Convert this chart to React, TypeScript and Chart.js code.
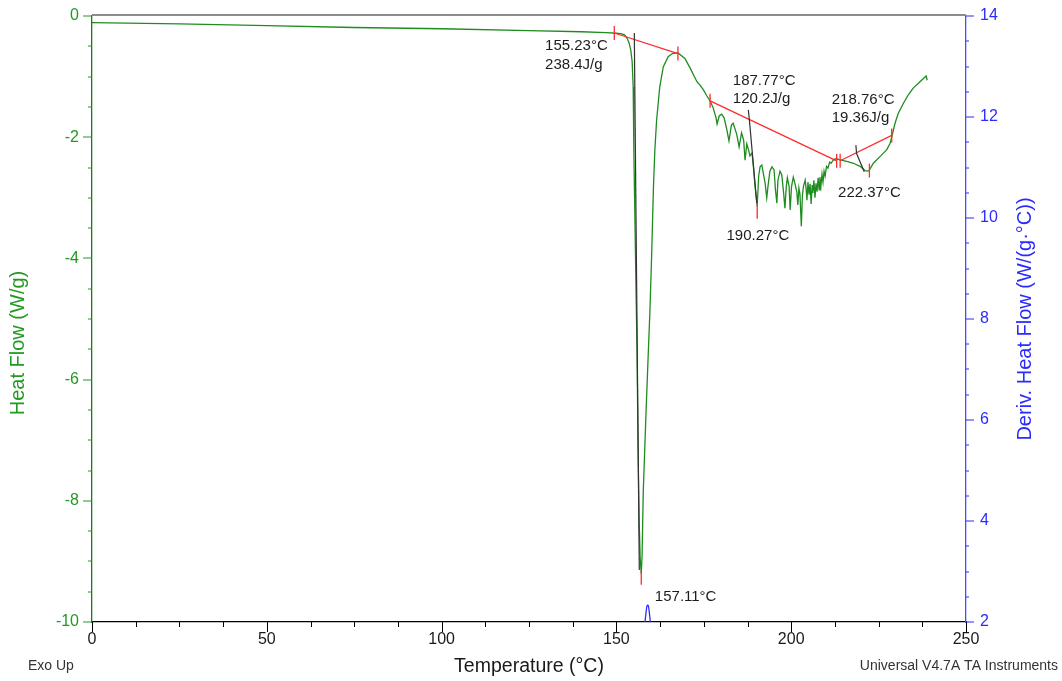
import { useEffect, useRef } from 'react';
import { Chart, registerables } from 'chart.js';

Chart.register(...registerables);

const FONT = '"Liberation Sans", Arial, Helvetica, sans-serif';

// Heat flow trace: temperature (°C) and heat flow (W/g)
const flowTemps = [
  0, 25, 50, 75, 100, 125, 140, 147, 150, 151.5,
  152.3, 153.0, 153.6, 154.1, 154.5, 154.8, 155.0, 155.3, 155.6, 155.9,
  156.2, 156.5, 156.8, 157.11, 157.35, 157.7, 158.5, 159.1, 159.6, 160.1,
  160.6, 161.0, 161.5, 162.4, 163.4, 164.8, 166.0, 167.6, 169.6, 171.1,
  173.0, 173.9, 174.9, 175.9, 176.8,
  177.7, 178.5, 178.8, 179.4, 180.1, 180.8, 181.5, 182.2, 182.9, 183.4,
  184.4, 185.1, 185.8, 186.4, 186.8, 187.3, 187.8, 188.2, 188.8, 189.2,
  189.6, 190.27,
  190.7, 191.1, 191.6, 192.1, 192.5, 193.0, 193.4, 193.9, 194.5, 195.1,
  195.5, 195.9, 196.2, 196.8, 197.3, 197.8, 198.2, 198.6, 198.9, 199.4,
  199.7, 200.1, 200.6, 201.1, 201.6, 201.9, 202.2, 202.5, 202.9, 203.2,
  203.5, 204.0, 204.3, 204.5, 204.8, 205.1, 205.4, 205.7, 206.0, 206.2,
  206.5, 206.8, 207.1, 207.4, 207.7, 208.0, 208.2, 208.5, 208.8, 209.1,
  209.4, 209.7, 210.1, 210.5, 211.0, 211.4, 212.0, 212.5, 213.1, 213.7,
  215.9, 217.8, 219.7, 221.1, 222.0, 222.4, 223.5, 225.4, 227.3, 228.3,
  228.75, 229.7, 230.6, 232.1, 233.5, 234.9, 236.4, 237.8, 238.6, 238.9,
];
const flowValues = [
  -0.11, -0.13, -0.16, -0.19, -0.21, -0.24, -0.26, -0.275, -0.285, -0.295,
  -0.31, -0.36, -0.44, -0.56, -0.75, -1.17, -2.26, -3.37, -4.47, -5.51,
  -7.16, -8.32, -8.95, -9.2, -8.9, -7.82, -6.5, -5.59, -4.85, -3.91,
  -2.82, -2.21, -1.72, -1.17, -0.84, -0.67, -0.62, -0.61, -0.7, -0.86,
  -1.08, -1.14, -1.22, -1.32, -1.4,
  -1.52, -1.68, -1.78, -1.65, -1.62, -1.68, -1.85, -2.06, -1.8, -1.77,
  -1.95, -2.16, -1.93, -2.05, -2.38, -2.11, -2.21, -2.31, -2.26, -2.49,
  -2.77, -3.14,
  -2.64, -2.49, -2.46, -2.62, -2.74, -3.0, -2.79, -2.56, -2.49, -2.54,
  -2.87, -3.09, -2.71, -2.56, -2.62, -2.9, -3.17, -2.81, -2.67, -2.81,
  -3.2, -2.81, -2.66, -2.77, -2.9, -3.12, -2.84, -2.94, -3.47, -2.97,
  -2.81, -2.71, -2.87, -3.04, -2.74, -2.95, -2.77, -3.1, -2.79, -2.92,
  -2.71, -3.0, -2.76, -2.9, -2.67, -2.87, -2.66, -2.81, -2.61, -2.74,
  -2.56, -2.64, -2.48, -2.51, -2.41, -2.43, -2.38, -2.36, -2.36, -2.37,
  -2.4, -2.43, -2.48, -2.55, -2.56, -2.54, -2.43, -2.32, -2.21, -2.1,
  -2.0, -1.77, -1.61, -1.44, -1.3, -1.19, -1.11, -1.03, -0.99, -1.06,
];

// Derivative heat flow around the melting peak, W/(g·°C)
const derivTemps = [157.6, 158.2, 158.5, 158.8, 159.1, 159.4, 159.7, 160.3];
const derivValues = [1.3, 2.0, 2.2, 2.33, 2.33, 2.2, 2.0, 1.3];

// Integration baselines
const baseOneTemps = [149.4, 167.6];
const baseOneFlows = [-0.28, -0.62];
const baseTwoTemps = [176.8, 213.0];
const baseTwoFlows = [-1.4, -2.39];
const baseThreeTemps = [214.0, 228.75];
const baseThreeFlows = [-2.39, -1.97];

// Onset tangents
const tanOneTemps = [155.12, 156.55];
const tanOneFlows = [-0.28, -9.14];
const tanTwoTemps = [187.73, 188.0, 190.15];
const tanTwoFlows = [-1.55, -1.69, -3.09];
const tanThreeTemps = [218.5, 218.7, 220.9];
const tanThreeFlows = [-2.13, -2.27, -2.57];

// Integration limits and peak markers
const markTemps = [149.4, 167.6, 176.8, 213.0, 214.0, 228.75, 222.37, 190.27, 157.11];
const markFlows = [-0.28, -0.62, -1.4, -2.39, -2.39, -1.97, -2.55, -3.23, -9.27];

// Analysis results
const noteTexts = ['155.23°C', '238.4J/g', '187.77°C', '120.2J/g', '218.76°C', '19.36J/g', '190.27°C', '222.37°C', '157.11°C'];
const noteTemps = [129.6, 129.6, 183.3, 183.3, 211.6, 211.6, 181.5, 213.4, 161.0];
const noteFlows = [-0.5, -0.81, -1.07, -1.37, -1.39, -1.68, -3.62, -2.92, -9.58];

// Axis ticks
const tempTicks = [0, 50, 100, 150, 200, 250];
const flowTicks = [-10, -8, -6, -4, -2, 0];
const derivTicks = [2, 4, 6, 8, 10, 12, 14];

const GREEN = '#229a22';
const BLUE = '#2b2bff';
const RED = '#ff2a2a';

const pts = (xs: number[], ys: number[]) => xs.map((x, i) => ({ x, y: ys[i] }));

const segment = (xs: number[], ys: number[], color: string) => ({
  data: pts(xs, ys),
  showLine: true,
  borderColor: color,
  borderWidth: 1.2,
  pointRadius: 0,
  yAxisID: 'y',
});

const decor = {
  id: 'decor',
  afterDraw(chart: any) {
    const { ctx, chartArea: a, scales } = chart;
    const sx = scales.x;
    const sy = scales.y;
    const sy2 = scales.y2;
    ctx.save();

    // top frame
    ctx.strokeStyle = '#8c8c8c';
    ctx.lineWidth = 2;
    ctx.beginPath();
    ctx.moveTo(a.left, a.top - 1);
    ctx.lineTo(a.right, a.top - 1);
    ctx.stroke();

    // major and minor tick marks
    ctx.lineWidth = 1;
    const tickRun = (scale: any, step: number, major: number, color: string, draw: (p: number, len: number) => void) => {
      ctx.strokeStyle = color;
      ctx.beginPath();
      for (let v = scale.min; v <= scale.max + 1e-9; v += step) {
        const isMajor = Math.abs(v / major - Math.round(v / major)) < 1e-6;
        draw(Math.round(scale.getPixelForValue(v)) + 0.5, isMajor ? 9 : 4);
      }
      ctx.stroke();
    };
    tickRun(sx, 12.5, 50, '#000', (p, len) => {
      ctx.moveTo(p, a.bottom);
      ctx.lineTo(p, a.bottom + len + 1);
    });
    tickRun(sy, 0.5, 2, GREEN, (p, len) => {
      ctx.moveTo(a.left - len, p - 0.5);
      ctx.lineTo(a.left, p - 0.5);
    });
    tickRun(sy2, 0.5, 2, BLUE, (p, len) => {
      ctx.moveTo(a.right, p - 0.5);
      ctx.lineTo(a.right + len - 1, p - 0.5);
    });

    // result annotations
    ctx.fillStyle = '#1c1c1c';
    ctx.font = `15px ${FONT}`;
    ctx.textAlign = 'left';
    ctx.textBaseline = 'middle';
    noteTexts.forEach((t, i) => {
      ctx.fillText(t, sx.getPixelForValue(noteTemps[i]), sy.getPixelForValue(noteFlows[i]));
    });

    // vertical axis titles
    ctx.font = `20px ${FONT}`;
    ctx.textAlign = 'center';
    ctx.save();
    ctx.translate(18, 343);
    ctx.rotate(-Math.PI / 2);
    ctx.fillStyle = GREEN;
    ctx.fillText('Heat Flow (W/g)', 0, 0);
    ctx.restore();
    ctx.save();
    ctx.translate(1025, (a.top + a.bottom) / 2);
    ctx.rotate(-Math.PI / 2);
    ctx.fillStyle = BLUE;
    ctx.fillText('Deriv. Heat Flow (W/(g·°C))', 0, 0);
    ctx.restore();

    // footer notes
    ctx.font = `14px ${FONT}`;
    ctx.fillStyle = '#333';
    ctx.textAlign = 'left';
    ctx.fillText('Exo Up', 28, 666);
    ctx.textAlign = 'right';
    ctx.fillText('Universal V4.7A TA Instruments', 1058, 666);

    ctx.restore();
  },
};

export default function App() {
  const canvasRef = useRef<HTMLCanvasElement | null>(null);

  useEffect(() => {
    const canvas = canvasRef.current;
    if (!canvas) return;
    const chart = new Chart(canvas, {
      type: 'scatter',
      data: {
        datasets: [
          {
            data: pts(markTemps, markFlows),
            showLine: false,
            pointStyle: 'line',
            pointRadius: 7,
            pointRotation: 90,
            pointBorderColor: RED,
            pointBorderWidth: 1.3,
            yAxisID: 'y',
          } as any,
          segment(tanOneTemps, tanOneFlows, '#333'),
          segment(tanTwoTemps, tanTwoFlows, '#333'),
          segment(tanThreeTemps, tanThreeFlows, '#333'),
          segment(baseOneTemps, baseOneFlows, RED),
          segment(baseTwoTemps, baseTwoFlows, RED),
          segment(baseThreeTemps, baseThreeFlows, RED),
          {
            data: pts(flowTemps, flowValues),
            showLine: true,
            borderColor: 'rgb(30,140,30)',
            borderWidth: 1.3,
            pointRadius: 0,
            yAxisID: 'y',
          },
          {
            data: pts(derivTemps, derivValues),
            showLine: true,
            borderColor: BLUE,
            borderWidth: 1.3,
            pointRadius: 0,
            tension: 0.4,
            clip: 0,
            yAxisID: 'y2',
          } as any,
        ],
      },
      options: {
        animation: false,
        responsive: false,
        events: [],
        layout: { padding: { top: 16, left: 0, right: 0, bottom: 0 } },
        plugins: { legend: { display: false }, tooltip: { enabled: false } },
        scales: {
          x: {
            type: 'linear',
            position: 'bottom',
            min: 0,
            max: 250,
            afterBuildTicks: (s: any) => {
              s.ticks = tempTicks.map((v) => ({ value: v }));
            },
            afterFit: (s: any) => {
              s.height = 59;
            },
            ticks: { color: '#1a1a1a', font: { family: FONT, size: 16 }, padding: 2, maxRotation: 0, autoSkip: false },
            grid: { display: false, drawTicks: true, tickLength: 6 },
            border: { display: true, color: '#000', width: 1.3 },
            title: {
              display: true,
              text: 'Temperature (°C)',
              color: '#1a1a1a',
              font: { family: FONT, size: 19.5 },
              padding: { top: 0, bottom: 3 },
            },
          },
          y: {
            type: 'linear',
            position: 'left',
            min: -10,
            max: 0,
            afterBuildTicks: (s: any) => {
              s.ticks = flowTicks.map((v) => ({ value: v }));
            },
            afterFit: (s: any) => {
              s.width = 92;
            },
            ticks: { color: GREEN, font: { family: FONT, size: 16 }, padding: 3 },
            grid: { display: false, drawTicks: true, tickLength: 10 },
            border: { display: true, color: '#137f13', width: 1.3 },
          },
          y2: {
            type: 'linear',
            position: 'right',
            min: 2,
            max: 14,
            afterBuildTicks: (s: any) => {
              s.ticks = derivTicks.map((v) => ({ value: v }));
            },
            afterFit: (s: any) => {
              s.width = 96;
            },
            ticks: { color: BLUE, font: { family: FONT, size: 16 }, padding: 4 },
            grid: { display: false, drawTicks: true, tickLength: 10 },
            border: { display: true, color: '#4a4aff', width: 1.3 },
          },
        },
      } as any,
      plugins: [decor],
    });
    return () => chart.destroy();
  }, []);

  return (
    <div style={{ position: 'fixed', left: 0, top: 0, width: 1062, height: 681, background: '#fff' }}>
      <canvas ref={canvasRef} width={1062} height={681} style={{ display: 'block' }} />
    </div>
  );
}
